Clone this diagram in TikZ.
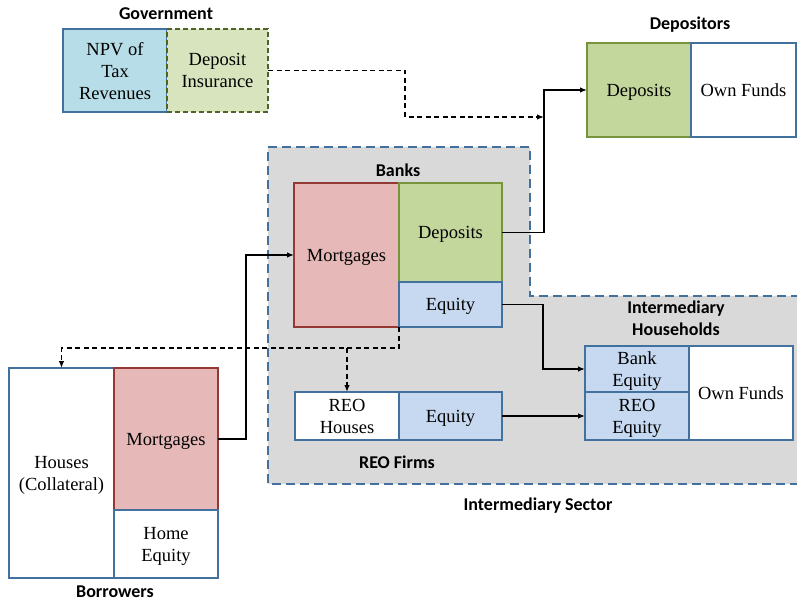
\documentclass[tikz,border=0pt]{standalone}
\usepackage{fontspec}
\setmainfont{Liberation Serif}
\newfontfamily\labfont{Carlito}
\usetikzlibrary{arrows.meta}
\definecolor{bborder}{RGB}{65,113,156}
\definecolor{npvfill}{HTML}{B7DEE8}
\definecolor{difill}{HTML}{D7E4BD}
\definecolor{diborder}{HTML}{4F6228}
\definecolor{gfill}{HTML}{C3D69B}
\definecolor{gborder}{HTML}{77933C}
\definecolor{pfill}{HTML}{E6B9B8}
\definecolor{pborder}{HTML}{953735}
\definecolor{lbfill}{HTML}{C6D9F1}
\definecolor{regfill}{HTML}{D9D9D9}
\tikzset{
  box/.style={draw=bborder, line width=1.8pt, fill=white, align=center, inner sep=0pt, outer sep=0pt,
    text depth=0pt, font=\fontsize{18.5}{22}\selectfont},
  bluebox/.style={box, fill=lbfill},
  npvbox/.style={box, fill=npvfill},
  greenbox/.style={box, draw=gborder, fill=gfill},
  pinkbox/.style={box, draw=pborder, fill=pfill},
  dibox/.style={box, draw=diborder, fill=difill, dashed, dash pattern=on 5pt off 3pt},
  lab/.style={font=\labfont\bfseries\fontsize{18}{22}\selectfont, align=center, inner sep=0pt},
  conn/.style={line width=1.3pt, -{Latex[length=7pt,width=5.5pt]}},
  dconn/.style={conn, dash pattern=on 5pt off 3.5pt},
  region/.style={draw=bborder, line width=2pt, fill=regfill, dash pattern=on 9pt off 5pt}
}
\begin{document}
\begin{tikzpicture}[x=1pt,y=-1pt]
\useasboundingbox (0,0) rectangle (797,601);
\fill[white] (0,0) rectangle (797,601);
% intermediary sector region
\draw[region] (268,147) -- (530,147) -- (530,296) -- (799,296) -- (799,484) -- (268,484) -- cycle;

% Government
\node[lab] (govl) at (166,14) {Government};
\node[npvbox, minimum width=104pt, minimum height=83pt] (npv) at (115,70.5) {NPV of\\Tax\\Revenues};
\node[dibox, minimum width=101pt, minimum height=83pt] (di) at (217.5,70.5) {Deposit\\Insurance};

% Depositors
\node[lab] (depl) at (690,25) {Depositors};
\node[greenbox, minimum width=104pt, minimum height=94pt] (ddep) at (639,90) {Deposits};
\node[box, minimum width=105pt, minimum height=94pt] (dof) at (743.5,90) {Own Funds};

% Banks
\node[lab] (bankl) at (398,170) {Banks};
\node[pinkbox, minimum width=105pt, minimum height=144pt] (bmort) at (346.5,255) {Mortgages};
\node[greenbox, minimum width=103pt, minimum height=99pt] (bdep) at (450.5,232.5) {Deposits};
\node[bluebox, minimum width=103pt, minimum height=45pt] (beq) at (450.5,304.5) {Equity};

% Intermediary households
\node[lab] (ihl) at (676,318) {Intermediary\\Households};
\node[bluebox, minimum width=104pt, minimum height=46pt] (ihbe) at (637,369) {Bank\\Equity};
\node[bluebox, minimum width=104pt, minimum height=48pt] (ihre) at (637,416) {REO\\Equity};
\node[box, minimum width=104pt, minimum height=94pt] (ihof) at (741,393) {Own Funds};

% REO firms
\node[box, minimum width=104pt, minimum height=48pt] (reoh) at (347,416) {REO\\Houses};
\node[bluebox, minimum width=103pt, minimum height=48pt] (reoe) at (450.5,416) {Equity};
\node[lab] (reol) at (397,462) {REO Firms};

\node[lab] (isl) at (538,506) {Intermediary Sector};

% Borrowers
\node[box, minimum width=105pt, minimum height=210pt] (houses) at (61.5,473) {Houses\\(Collateral)};
\node[pinkbox, minimum width=104pt, minimum height=142pt] (bomort) at (166,439) {Mortgages};
\node[box, minimum width=104pt, minimum height=68pt] (hoeq) at (166,544) {Home\\Equity};
\node[lab] (borl) at (115,592) {Borrowers};

% connectors
\coordinate (dj) at (544,117);
\draw[dconn] (di.east) -- (405,70.5) -- (405,117) -- (dj);
\draw[conn] (bdep.east) -- (544,232.5) |- (ddep.west);
\draw[conn] (bomort.east) -- (246,439) |- (bmort.west);
\draw[conn] (beq.east) -- (543,304.5) |- (ihbe.west);
\draw[conn] (reoe.east) -- (ihre.west);
\draw[dconn] (bmort.south east) -- (399,348) -| (houses.north);
\draw[dconn] (347,348) -- (reoh.north);
\end{tikzpicture}
\end{document}
